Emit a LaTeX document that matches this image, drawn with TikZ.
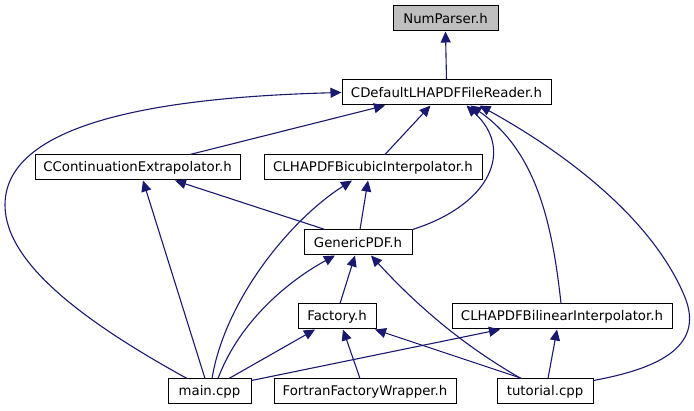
\documentclass[tikz,border=0pt]{standalone}
\usepackage{fontspec}
\setmainfont{DejaVu Sans}
\usetikzlibrary{arrows.meta}
\definecolor{edgeblue}{HTML}{191970}
\begin{document}
\begin{tikzpicture}[x=1pt,y=-1pt,
  box/.style={draw=black,line width=1pt,fill=white,minimum height=25pt,inner sep=0pt,
    font=\fontsize{13.3}{16}\selectfont},
  edge/.style={draw=edgeblue,line width=1.1pt,-{Triangle[length=11pt,width=10pt]}}]
\useasboundingbox (0,0) rectangle (694,411);
\node[box,fill={rgb,255:red,191;green,191;blue,191},minimum width=105pt] (num) at (445.5,18.5) {NumParser.h};
\node[box,minimum width=209pt] (cdef) at (446.5,92.5) {CDefaultLHAPDFFileReader.h};
\node[box,minimum width=205pt] (ccont) at (137.5,167.5) {CContinuationExtrapolator.h};
\node[box,minimum width=218pt] (bic) at (373,167.5) {CLHAPDFBicubicInterpolator.h};
\node[box,minimum width=108pt] (gpdf) at (358,242.5) {GenericPDF.h};
\node[box,minimum width=78pt] (fac) at (337,316.5) {Factory.h};
\node[box,minimum width=220pt] (bil) at (562,316.5) {CLHAPDFBilinearInterpolator.h};
\node[box,minimum width=83pt] (main) at (209.5,391.5) {main.cpp};
\node[box,minimum width=182pt] (ffw) at (365,391.5) {FortranFactoryWrapper.h};
\node[box,minimum width=96pt] (tut) at (545,391.5) {tutorial.cpp};
% straight edges
\draw[edge] (cdef.north) -- (num.south);
\draw[edge] ([xshift=52.5pt]ccont.north) -- ([xshift=-61.5pt]cdef.south);
\draw[edge] ([xshift=12pt]bic.north) -- ([xshift=-16pt]cdef.south);
\draw[edge] ([xshift=-4.5pt]main.north) -- ([xshift=5.5pt]ccont.south);
\draw[edge] ([xshift=-33pt]gpdf.north) -- ([xshift=37.5pt]ccont.south);
\draw[edge] ([xshift=2pt]gpdf.north) -- ([xshift=-5pt]bic.south);
\draw[edge] ([xshift=3pt]fac.north) -- ([xshift=-3pt]gpdf.south);
\draw[edge] ([xshift=19.5pt]main.north) -- ([xshift=-22pt]fac.south);
\draw[edge] ([xshift=-5pt]ffw.north) -- ([xshift=6pt]fac.south);
\draw[edge] ([xshift=-23pt]tut.north) -- ([xshift=38pt]fac.south);
\draw[edge] ([yshift=-2pt]main.north east) -- ([xshift=-62pt]bil.south);
\draw[edge] ([xshift=3pt]tut.north) -- ([xshift=-5pt]bil.south);
% curved edges
\draw[edge] ([xshift=-22.5pt]main.north) .. controls (90,325) and (5,265) .. (5,205)
   .. controls (5,120) and (170,97) .. (cdef.west);
\draw[edge] (gpdf.north east) .. controls (490,205) and (515,150) .. ([xshift=20pt]cdef.south);
\draw[edge] ([xshift=-1pt]bil.north) .. controls (552,220) and (535,150) .. ([xshift=24pt]cdef.south);
\draw[edge] ([yshift=-2pt]tut.north east) .. controls (650,370) and (708,350) .. (684,295)
   .. controls (650,215) and (560,150) .. ([xshift=33pt]cdef.south);
\draw[edge] ([xshift=2.5pt]main.north) .. controls (225,300) and (290,220) .. ([xshift=-21pt]bic.south);
\draw[edge] ([xshift=8.5pt]main.north) .. controls (240,320) and (290,280) .. ([xshift=-23pt]gpdf.south);
\draw[edge] ([xshift=-24pt]tut.north) .. controls (480,355) and (430,320) .. ([xshift=13pt]gpdf.south);
\end{tikzpicture}
\end{document}
